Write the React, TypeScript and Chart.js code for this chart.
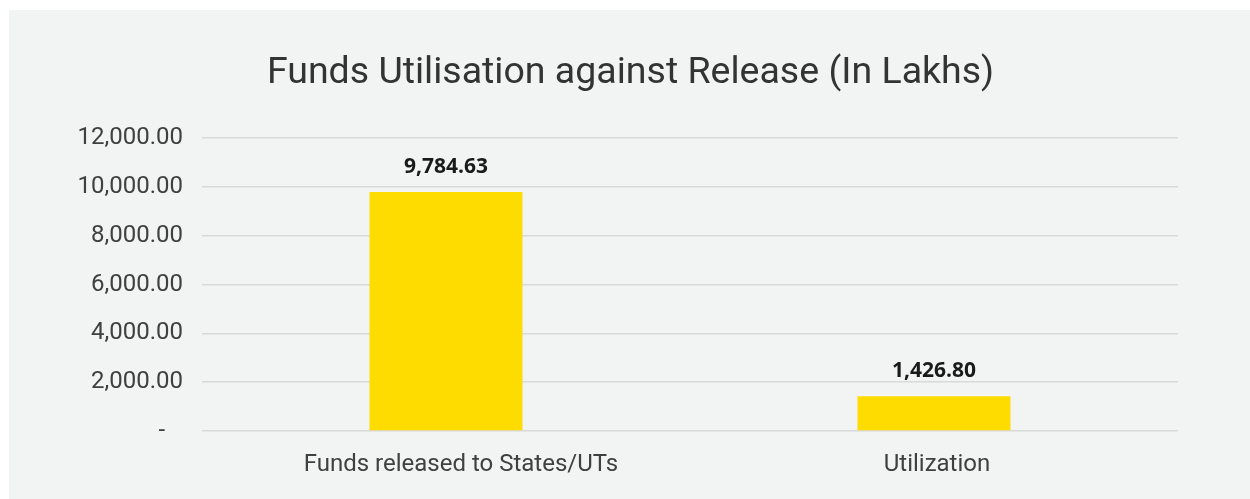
import React, { useEffect, useRef } from "react";
import { Chart, registerables } from "chart.js";

Chart.register(...registerables);

const categories = ["Funds released to States/UTs", "Utilization"];
const values = [9784.63, 1426.8];
const yTicks = [0, 2000, 4000, 6000, 8000, 10000, 12000];
const titleText = "Funds Utilisation against Release (In Lakhs)";
const labelLeadingSpaces = [5, 1];

const fmt = (v: number) =>
  v.toLocaleString("en-US", { minimumFractionDigits: 2, maximumFractionDigits: 2 });

const valueLabels = {
  id: "valueLabels",
  afterDatasetsDraw(chart: any) {
    const ctx = chart.ctx;
    const meta = chart.getDatasetMeta(0);
    ctx.save();
    ctx.font = "bold 21px 'Open Sans'";
    ctx.fillStyle = "#1a1a1a";
    ctx.textAlign = "center";
    ctx.textBaseline = "middle";
    meta.data.forEach((bar: any, i: number) => {
      ctx.fillText(fmt(values[i]), bar.x, bar.y - 25);
    });
    ctx.restore();
  },
};

const centeredTitle = {
  id: "centeredTitle",
  afterDraw(chart: any) {
    const ctx = chart.ctx;
    ctx.save();
    ctx.font = "37.5px Roboto";
    ctx.fillStyle = "#333333";
    ctx.textAlign = "center";
    ctx.textBaseline = "alphabetic";
    ctx.fillText(titleText, chart.width / 2 + 1, 73);
    ctx.restore();
  },
};

export default function App() {
  const ref = useRef<HTMLCanvasElement>(null);
  useEffect(() => {
    if (!ref.current) return;
    const chart = new Chart(ref.current, {
      type: "bar",
      data: {
        labels: categories,
        datasets: [
          {
            data: values,
            backgroundColor: "#FFDC00",
            barPercentage: 0.3135,
            categoryPercentage: 1,
          },
        ],
      },
      options: {
        animation: false,
        responsive: false,
        layout: { padding: { left: 0, right: 72, top: 128, bottom: 22 } },
        plugins: {
          legend: { display: false },
          tooltip: { enabled: false },
          title: { display: false },
        },
        scales: {
          x: {
            afterFit: (s: any) => {
              s.height = 46;
            },
            grid: { display: false },
            border: { display: false },
            ticks: {
              color: "#404040",
              font: { family: "Roboto", size: 24 },
              padding: 12,
              maxRotation: 0,
              callback: (_v: any, i: number) =>
                " ".repeat(labelLeadingSpaces[i] || 0) + categories[i],
            },
          },
          y: {
            min: 0,
            max: 12000,
            afterFit: (s: any) => {
              s.width = 193;
            },
            afterBuildTicks: (s: any) => {
              s.ticks = yTicks.map((v) => ({ value: v }));
            },
            grid: { color: "#d9d9d9", lineWidth: 1.5, drawTicks: false },
            border: { display: false },
            ticks: {
              color: "#404040",
              font: { family: "Roboto", size: 24 },
              padding: 19,
              callback: (v: any) => (Number(v) === 0 ? "-   " : fmt(Number(v))),
            },
          },
        },
      },
      plugins: [valueLabels, centeredTitle],
    });
    return () => chart.destroy();
  }, []);
  return (
    <div
      style={{
        position: "fixed",
        left: 9,
        top: 10,
        width: 1241,
        height: 489,
        background: "#f2f3f3",
      }}
    >
      <canvas ref={ref} width={1241} height={489} style={{ display: "block" }} />
    </div>
  );
}
